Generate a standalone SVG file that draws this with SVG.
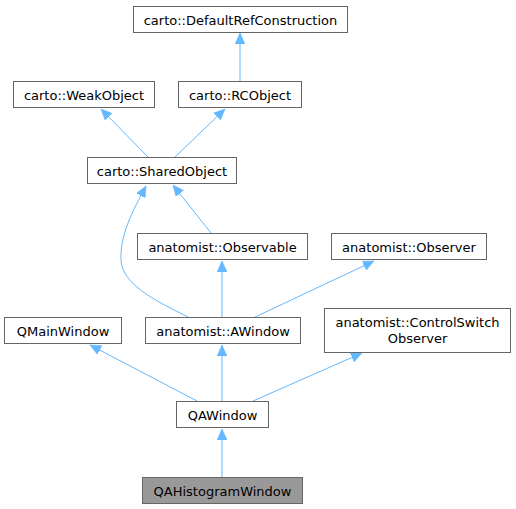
<svg xmlns="http://www.w3.org/2000/svg" width="516" height="509" viewBox="0 0 516 509">
<style>
.n rect{fill:#ffffff;stroke:#666666;stroke-width:1}
.n.h rect{fill:#999999}
.n text{font-family:"DejaVu Sans",sans-serif;font-size:13px;fill:#000000;text-anchor:middle}
.e path{fill:none;stroke:#63b8ff;stroke-width:1;marker-end:url(#arr)}
</style>
<defs>
<marker id="arr" markerUnits="userSpaceOnUse" markerWidth="12" markerHeight="10" refX="11" refY="5" orient="auto">
<path d="M0,0 L11,5 L0,10 z" fill="#63b8ff" stroke="#63b8ff" stroke-width="0.5"/>
</marker>
</defs>
<rect width="516" height="509" fill="#ffffff"/>
<g id="edges" class="e">
<path d="M240,81 L240,33"/>
<path d="M148,157 L101,109"/>
<path d="M175,157 L225,109"/>
<path d="M211,233 L173,185"/>
<path d="M190,318 C165,305 122,287 121,260 C120,235 132,212 146,186"/>
<path d="M222,318 L222,261"/>
<path d="M253,318 L374,261"/>
<path d="M197,401 L90,345"/>
<path d="M222,401 L222,345"/>
<path d="M253,401 L362,353"/>
<path d="M222,477 L222,429"/>
</g>
<g id="n1" class="n"><rect x="133.5" y="6.5" width="214" height="26"/><text x="240.5" y="24.5">carto::DefaultRefConstruction</text></g>
<g id="n2" class="n"><rect x="13.5" y="81.5" width="141" height="26"/><text x="84" y="99.5">carto::WeakObject</text></g>
<g id="n3" class="n"><rect x="178.5" y="81.5" width="123" height="26"/><text x="240" y="99.5">carto::RCObject</text></g>
<g id="n4" class="n"><rect x="87.5" y="157.5" width="149" height="26"/><text x="162" y="175.5">carto::SharedObject</text></g>
<g id="n5" class="n"><rect x="137.5" y="233.5" width="170" height="26"/><text x="222.5" y="251.5">anatomist::Observable</text></g>
<g id="n6" class="n"><rect x="331.5" y="233.5" width="155" height="26"/><text x="409" y="251.5">anatomist::Observer</text></g>
<g id="n7" class="n"><rect x="4.5" y="317.5" width="117" height="26"/><text x="63" y="335.5">QMainWindow</text></g>
<g id="n8" class="n"><rect x="145.5" y="317.5" width="155" height="26"/><text x="223" y="335.5">anatomist::AWindow</text></g>
<g id="n9" class="n"><rect x="324.5" y="308.5" width="186" height="44"/><text x="417.5" y="326.5">anatomist::ControlSwitch</text><text x="417.5" y="342.5">Observer</text></g>
<g id="n10" class="n"><rect x="176.5" y="401.5" width="92" height="26"/><text x="222.5" y="419.5">QAWindow</text></g>
<g id="n11" class="n h"><rect x="142.5" y="477.5" width="160" height="26"/><text x="222.5" y="495.5">QAHistogramWindow</text></g>
</svg>
